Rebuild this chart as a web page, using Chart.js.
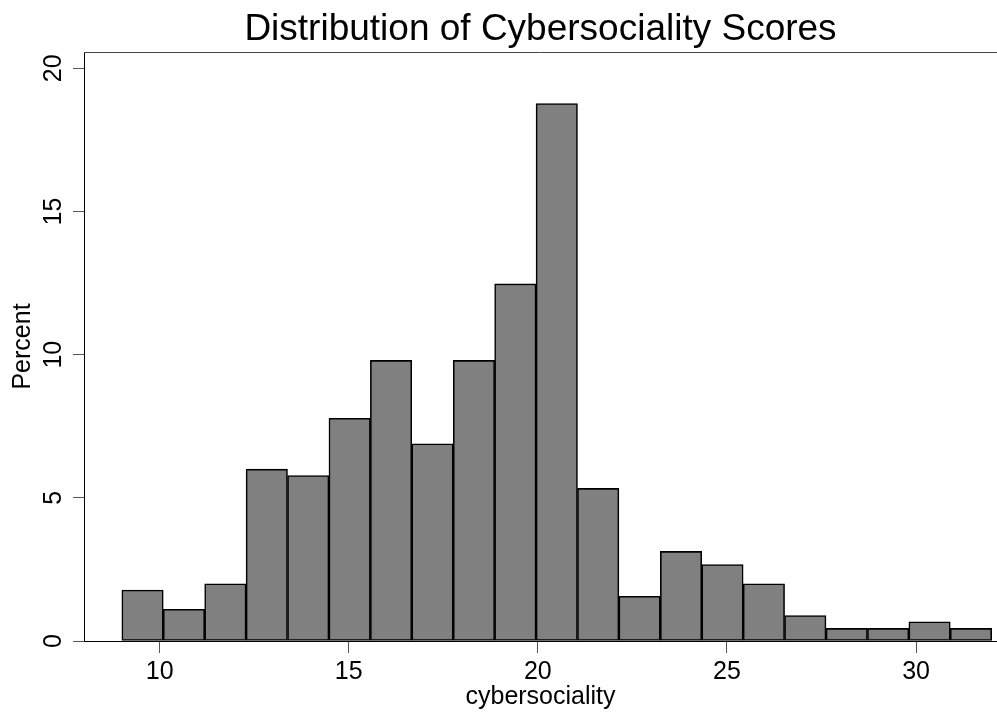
<!DOCTYPE html>
<html>
<head>
<meta charset="utf-8">
<script src="https://cdn.jsdelivr.net/npm/chart.js@4.4.1/dist/chart.umd.min.js"></script>
<style>
  body { margin: 0; background: #fff; }
  #wrap { width: 997px; height: 713px; }
</style>
</head>
<body>
<div id="wrap"><canvas id="chart"></canvas></div>
<script>
// histogram bins (midpoints) and percent per bin
const binMids = [9.548, 10.643, 11.738, 12.833, 13.929, 15.024, 16.119, 17.214,
  18.310, 19.405, 20.500, 21.595, 22.690, 23.786, 24.881, 25.976, 27.071,
  28.167, 29.262, 30.357, 31.452];
const percents = [1.78, 1.11, 2.0, 6.0, 5.78, 7.78, 9.8, 6.89, 9.8, 12.47, 18.77,
  5.33, 1.56, 3.13, 2.67, 2.0, 0.89, 0.44, 0.44, 0.67, 0.44];
const xTicks = [10, 15, 20, 25, 30];
const yTicks = [0, 5, 10, 15, 20];

const chartTitle = "Distribution of Cybersociality Scores";
const font = "'Liberation Sans', Arial, sans-serif";

// title centred over the plot region, plus the top frame line
const frameAndTitle = {
  id: "frameAndTitle",
  afterDraw(chart) {
    const { ctx, chartArea } = chart;
    ctx.save();
    ctx.strokeStyle = "#444";
    ctx.lineWidth = 1;
    ctx.beginPath();
    ctx.moveTo(chartArea.left, chartArea.top + 0.5);
    ctx.lineTo(chartArea.right, chartArea.top + 0.5);
    ctx.stroke();
    ctx.fillStyle = "#000";
    ctx.font = "37px " + font;
    ctx.textAlign = "center";
    ctx.textBaseline = "middle";
    ctx.fillText(chartTitle, (chartArea.left + chartArea.right) / 2, 30);
    ctx.restore();
  }
};

new Chart(document.getElementById("chart"), {
  type: "bar",
  data: {
    datasets: [{
      data: binMids.map((x, i) => ({ x: x, y: percents[i] })),
      backgroundColor: "#808080",
      borderColor: "#000",
      borderWidth: 1.6,
      borderSkipped: false,
      barPercentage: 1,
      categoryPercentage: 1
    }]
  },
  options: {
    responsive: true,
    maintainAspectRatio: false,
    animation: false,
    layout: { padding: { top: 52, left: 0, right: 0, bottom: 0 } },
    plugins: { legend: { display: false }, tooltip: { enabled: false } },
    scales: {
      x: {
        type: "linear",
        offset: false,
        min: 8.0,
        max: 32.14,
        afterBuildTicks: (s) => { s.ticks = xTicks.map(v => ({ value: v })); },
        afterFit: (s) => { s.height = 72; },
        border: { color: "#000", width: 1 },
        grid: { display: true, drawOnChartArea: false, offset: false, tickLength: 12, tickColor: "#555" },
        ticks: { color: "#000", font: { family: font, size: 25 }, padding: 4, maxRotation: 0 },
        title: { display: true, text: "cybersociality", color: "#000",
          font: { family: font, size: 25 }, padding: { top: 0, bottom: 1 } }
      },
      y: {
        min: 0,
        max: 20.57,
        afterBuildTicks: (s) => { s.ticks = yTicks.map(v => ({ value: v })); },
        afterFit: (s) => { s.width = 84; },
        border: { color: "#000", width: 1 },
        grid: { display: true, drawOnChartArea: false, tickLength: 11, tickColor: "#555" },
        ticks: { color: "#000", font: { family: font, size: 25 }, padding: 5,
          minRotation: 90, maxRotation: 90, crossAlign: "center" },
        title: { display: true, text: "Percent", color: "#000",
          font: { family: font, size: 25 }, padding: { top: 8, bottom: 0 } }
      }
    }
  },
  plugins: [frameAndTitle]
});
</script>
</body>
</html>
